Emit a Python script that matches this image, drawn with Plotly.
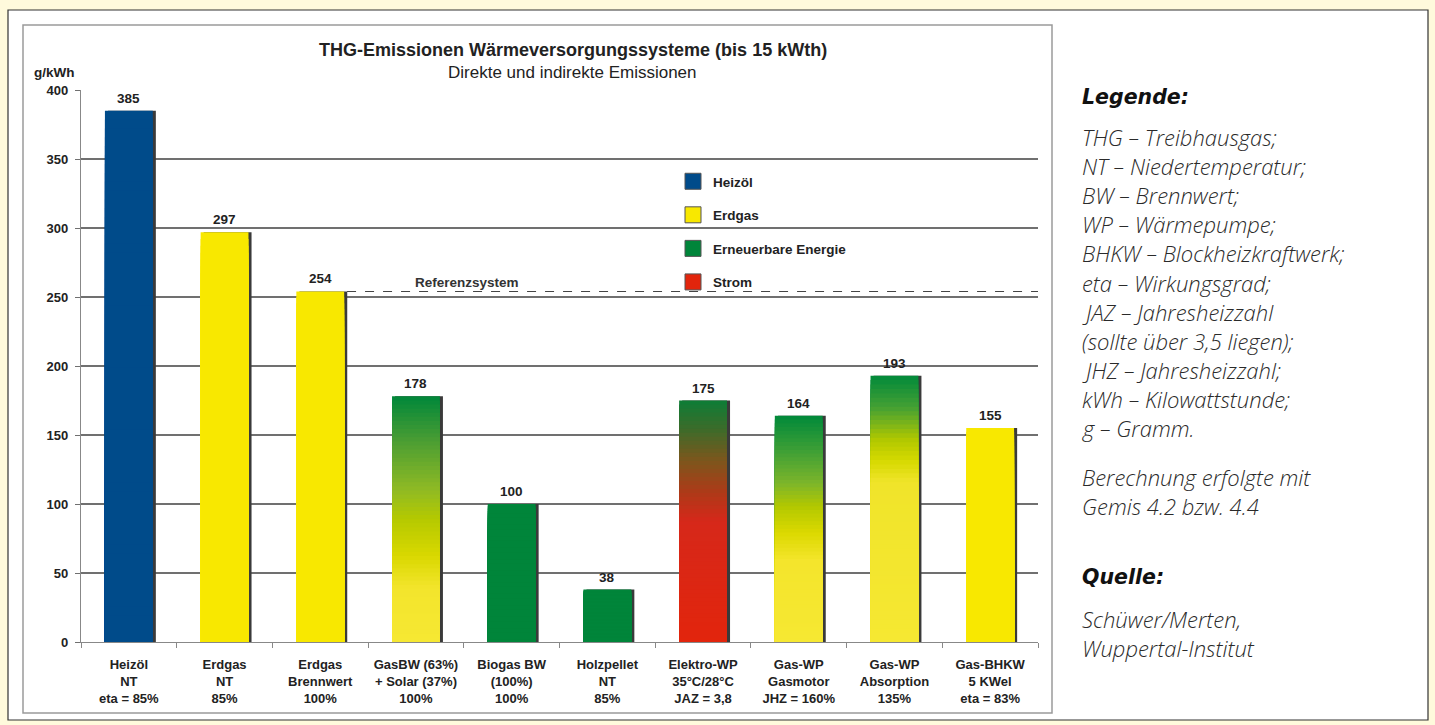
import plotly.graph_objects as go

# ---------------- data ----------------
categories = [
    "Heizöl<br>NT<br>eta = 85%",
    "Erdgas<br>NT<br>85%",
    "Erdgas<br>Brennwert<br>100%",
    "GasBW (63%)<br>+ Solar (37%)<br>100%",
    "Biogas BW<br>(100%)<br>100%",
    "Holzpellet<br>NT<br>85%",
    "Elektro-WP<br>35°C/28°C<br>JAZ = 3,8",
    "Gas-WP<br>Gasmotor<br>JHZ = 160%",
    "Gas-WP<br>Absorption<br>135%",
    "Gas-BHKW<br>5 KWel<br>eta = 83%",
]
emissions = [385, 297, 254, 178, 100, 38, 175, 164, 193, 155]
reference_value = 254
reference_label = "Referenzsystem"
legend_names = ["Heizöl", "Erdgas", "Erneuerbare Energie", "Strom"]
y_ticks = [0, 50, 100, 150, 200, 250, 300, 350, 400]

# ---------------- styles ----------------
BLUE = "#004b8a"
YELLOW = "#f8e800"
GREEN = "#00853a"
RED = "#e2250c"
legend_colors = [BLUE, YELLOW, GREEN, RED]

# colour ramps per bar: (fraction of bar height from bottom, colour)
ramps = [
    [(0, BLUE), (1, BLUE)],
    [(0, YELLOW), (1, YELLOW)],
    [(0, YELLOW), (1, YELLOW)],
    [(0, "#f6e833"), (0.22, "#f3e52c"), (0.35, "#d9d800"), (0.5, "#b5c900"),
     (0.62, "#8fba24"), (0.82, "#4a9d33"), (1, "#00873a")],
    [(0, GREEN), (1, GREEN)],
    [(0, GREEN), (1, GREEN)],
    [(0, RED), (0.5, "#d6281a"), (0.62, "#ad3a18"), (0.75, "#7d561c"),
     (0.88, "#3d6b2a"), (1, "#0d7d36")],
    [(0, "#f6e832"), (0.36, "#f4e52c"), (0.48, "#dcd900"), (0.6, "#b2c800"),
     (0.7, "#7db52a"), (0.84, "#40a035"), (1, "#00893a")],
    [(0, "#f6e832"), (0.6, "#f0e42a"), (0.68, "#d6d900"), (0.76, "#b0c800"),
     (0.88, "#45a033"), (1, "#00893a")],
    [(0, YELLOW), (1, YELLOW)],
]


def hex2rgb(h):
    h = h.lstrip("#")
    return tuple(int(h[i:i + 2], 16) for i in (0, 2, 4))


def ramp_color(ramp, f):
    for (f0, c0), (f1, c1) in zip(ramp[:-1], ramp[1:]):
        if f <= f1:
            t = 0 if f1 == f0 else (f - f0) / (f1 - f0)
            a, b = hex2rgb(c0), hex2rgb(c1)
            r = [round(a[k] + (b[k] - a[k]) * t) for k in range(3)]
            return "rgb(%d,%d,%d)" % tuple(r)
    return ramp[-1][1]


W, H = 1435, 725
L, R, T, B = 81, 1038, 90, 642
CREAM = "#fffadc"


def px(x):
    return (x - L) / (R - L)


def py(y):
    return (B - y) / (B - T)


FONT = "Liberation Sans, Arial, sans-serif"
SIDE_FONT = "Open Sans, DejaVu Sans, sans-serif"
SIDE_BOLD = "DejaVu Sans, Liberation Sans, sans-serif"
BAR_W = 0.5
N_SEG = 60

fig = go.Figure()

# shadow
fig.add_trace(go.Bar(
    x=categories, y=emissions, width=BAR_W, offset=-BAR_W / 2 + 0.032,
    marker=dict(color="#3a3a3a", line=dict(width=0)),
    hoverinfo="skip", showlegend=False,
))

# gradient bars as nested bars (tallest first)
for k in range(N_SEG, 0, -1):
    frac = k / N_SEG
    fig.add_trace(go.Bar(
        x=categories, y=[v * frac for v in emissions],
        width=BAR_W, offset=-BAR_W / 2,
        marker=dict(color=[ramp_color(r, (k - 0.5) / N_SEG) for r in ramps],
                    line=dict(width=0)),
        hoverinfo="skip", showlegend=False,
    ))

# legend entries
for i, (name, col) in enumerate(zip(legend_names, legend_colors)):
    fig.add_trace(go.Scatter(
        x=[None], y=[None], mode="markers", name=name, legendgroup="g%d" % i,
        marker=dict(symbol="square", size=16, color=col,
                    line=dict(color="#555", width=1)),
    ))

shapes = [
    # white card
    dict(type="rect", xref="paper", yref="paper", layer="below",
         x0=px(8), x1=px(1428), y0=py(10), y1=py(720),
         fillcolor="white", line=dict(color="#333", width=1.2)),
    # chart frame
    dict(type="rect", xref="paper", yref="paper", layer="below",
         x0=px(23), x1=px(1052), y0=py(25), y1=py(713),
         fillcolor="white", line=dict(color="#9a9a9a", width=1.5)),
    # reference line
    dict(type="line", xref="x", yref="y",
         x0=2 + BAR_W / 2 + 0.03, x1=len(categories) - 0.5,
         y0=reference_value, y1=reference_value,
         line=dict(color="#444", width=1.2, dash="dash")),
]

ann = [
    dict(text="<b>THG-Emissionen Wärmeversorgungssysteme (bis 15 kWth)</b>",
         x=px(573), y=py(50), font=dict(size=18, color="#222")),
    dict(text="Direkte und indirekte Emissionen",
         x=px(572), y=py(73), font=dict(size=17, color="#222")),
    dict(text="<b>g/kWh</b>", x=px(54), y=py(72), font=dict(size=13.5, color="#222")),
    dict(text="<b>" + reference_label + "</b>", x=2.97, xref="x", y=py(282),
         xanchor="left", font=dict(size=13.5, color="#333")),
]
for a in ann:
    a.setdefault("xref", "paper")
    a.setdefault("yref", "paper")
    a.setdefault("xanchor", "center")
    a["yanchor"] = "middle"
    a["showarrow"] = False
    a["font"]["family"] = FONT

# value labels above bars
for c, v in zip(categories, emissions):
    ann.append(dict(
        x=c, y=v, xref="x", yref="y", text="<b>%d</b>" % v, showarrow=False,
        xanchor="center", yanchor="bottom", yshift=3,
        font=dict(family=FONT, size=13.5, color="#222"),
    ))

side_lines = [
    ("Legende:", 97, True),
    ("THG – Treibhausgas;", 137, False),
    ("NT – Niedertemperatur;", 166, False),
    ("BW – Brennwert;", 195, False),
    ("WP – Wärmepumpe;", 224, False),
    ("BHKW – Blockheizkraftwerk;", 253, False),
    ("eta – Wirkungsgrad;", 283, False),
    ("JAZ – Jahresheizzahl", 312, False),
    ("(sollte über 3,5 liegen);", 341, False),
    ("JHZ – Jahresheizzahl;", 370, False),
    ("kWh – Kilowattstunde;", 399, False),
    ("g – Gramm.", 428, False),
    ("Berechnung erfolgte mit", 477, False),
    ("Gemis 4.2 bzw. 4.4", 506, False),
    ("Quelle:", 577, True),
    ("Schüwer/Merten,", 619, False),
    ("Wuppertal-Institut", 648, False),
]
for txt, yy, bold in side_lines:
    ann.append(dict(
        text=txt, x=px(1080), y=py(yy), xref="paper", yref="paper",
        xanchor="left", yanchor="middle", showarrow=False,
        font=dict(family=SIDE_BOLD if bold else SIDE_FONT,
                  size=20.5 if bold else 22,
                  style="italic", weight="bold" if bold else 300,
                  color="#111" if bold else "#2a2a2a"),
    ))

fig.update_layout(
    width=W, height=H,
    margin=dict(l=L, r=W - R, t=T, b=H - B),
    paper_bgcolor=CREAM,
    plot_bgcolor="#dcdbdc",
    barmode="overlay",
    font=dict(family=FONT, color="#222"),
    showlegend=True,
    legend=dict(x=px(673), y=py(166), xanchor="left", yanchor="top",
                bgcolor="rgba(0,0,0,0)", traceorder="grouped",
                tracegroupgap=13,
                font=dict(family=FONT, size=13.5, color="#222", weight="bold")),
    shapes=shapes,
    annotations=ann,
    xaxis=dict(
        type="category", showline=True, linecolor="#888", linewidth=1.2,
        ticks="outside", tickson="boundaries", ticklen=5, tickcolor="#888",
        tickfont=dict(family=FONT, size=13, color="#222", weight="bold"),
        showgrid=False, range=[-0.5, len(categories) - 0.5],
        ticklabelstandoff=10,
    ),
    yaxis=dict(
        range=[0, 400], tickvals=y_ticks, showgrid=True, gridcolor="#707070",
        gridwidth=1.5, zeroline=False, showline=True, linecolor="#888",
        linewidth=1.2, ticks="outside", ticklen=5, tickcolor="#707070",
        tickfont=dict(family=FONT, size=13, color="#222", weight="bold"),
        ticklabelstandoff=4,
    ),
)

fig.write_html(
    "out.html",
    config={"displayModeBar": False},
    post_script="document.body.style.margin='0';"
                "document.body.style.background='%s';"
                "document.documentElement.style.background='%s';" % (CREAM, CREAM),
)
